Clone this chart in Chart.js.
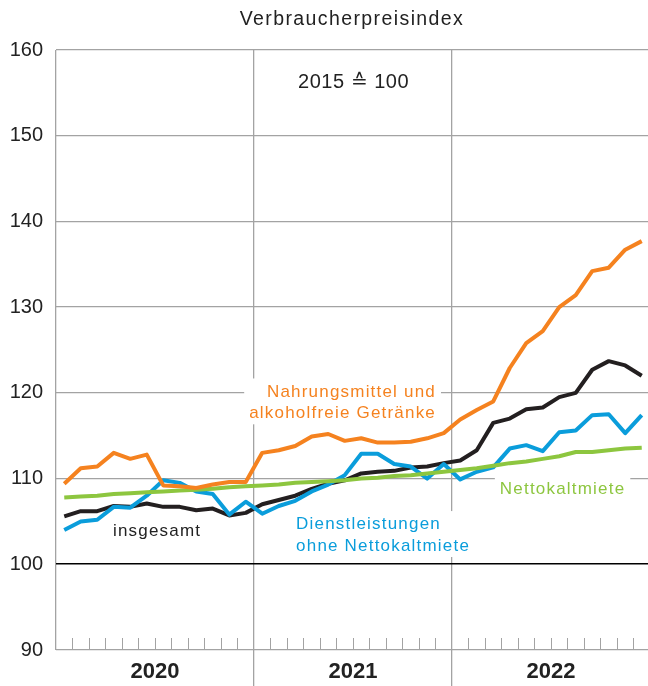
<!DOCTYPE html>
<html><head><meta charset="utf-8">
<script src="https://cdn.jsdelivr.net/npm/chart.js@4"></script>
<style>html,body{margin:0;padding:0;background:#fff}canvas{display:block}</style>
</head><body>
<canvas id="c" width="648" height="686"></canvas>
<script>
// ---- data (monthly, Jan 2020 – Dec 2022; 2015 = 100) ----
const years = ['2020', '2021', '2022'];
const yTicks = [90, 100, 110, 120, 130, 140, 150, 160];

const insgesamt = [
  105.6, 106.2, 106.2, 106.8, 106.7, 107.1, 106.7, 106.7, 106.3, 106.5, 105.7, 106.0,
  107.0, 107.5, 108.0, 108.8, 109.4, 109.8, 110.6, 110.8, 110.9, 111.3, 111.4, 111.8,
  112.1, 113.3, 116.5, 117.0, 118.1, 118.3, 119.5, 120.0, 122.7, 123.7, 123.2, 122.0
];
const nahrungsmittel = [
  109.4, 111.2, 111.4, 113.0, 112.3, 112.8, 109.2, 109.1, 108.9, 109.3, 109.6, 109.6,
  113.0, 113.3, 113.8, 114.9, 115.2, 114.4, 114.7, 114.2, 114.2, 114.3, 114.7, 115.3,
  116.9, 118.0, 119.0, 122.9, 125.8, 127.2, 130.0, 131.4, 134.2, 134.6, 136.7, 137.7
];
const dienstleistungen = [
  104.0, 105.0, 105.2, 106.7, 106.6, 108.0, 109.8, 109.5, 108.5, 108.2, 105.8, 107.3,
  105.9, 106.8, 107.4, 108.5, 109.3, 110.4, 112.9, 112.9, 111.7, 111.4, 110.0, 111.7,
  109.9, 110.8, 111.3, 113.5, 113.9, 113.2, 115.4, 115.6, 117.4, 117.5, 115.3, 117.4
];
const nettokaltmiete = [
  107.8, 107.9, 108.0, 108.2, 108.3, 108.4, 108.5, 108.6, 108.7, 108.8, 109.0, 109.1,
  109.2, 109.3, 109.5, 109.6, 109.7, 109.8, 110.0, 110.1, 110.3, 110.4, 110.6, 110.8,
  111.0, 111.2, 111.5, 111.8, 112.0, 112.3, 112.6, 113.1, 113.1, 113.3, 113.5, 113.6
];

// ---- styles ----
const ORANGE = '#F5821F', BLUE = '#0A9DDB', GREEN = '#8DC63F', BLACK = '#231F20';
const GRID = '#a3a3a3', TEXT = '#222222';
const FONT = '"Liberation Sans", Arial, sans-serif';

const toPts = arr => arr.map((v, i) => ({ x: i + 0.5, y: v }));

// annotation texts, anchored in data coordinates (x: months from Jan 2020, y: index value at baseline)
const notes = [
  { lines: ['2015 \u2259 100'], x: 14.67, ys: [155.57], align: 'left', color: TEXT, size: 20, ls: 0.5, box: false },
  { lines: ['Nahrungsmittel und', 'alkoholfreie Getr\u00e4nke'], x: 23.03, ys: [119.55, 117.03], align: 'right', color: ORANGE, size: 17, ls: 1.2, box: true },
  { lines: ['Dienstleistungen', 'ohne Nettokaltmiete'], x: 14.55, ys: [104.08, 101.55], align: 'left', color: BLUE, size: 17, ls: 1.2, box: true },
  { lines: ['Nettokaltmiete'], x: 26.9, ys: [108.2], align: 'left', color: GREEN, size: 17, ls: 1.2, box: true },
  { lines: ['insgesamt'], x: 3.45, ys: [103.3], align: 'left', color: TEXT, size: 17, ls: 1.2, box: false }
];

const decor = {
  id: 'decor',
  beforeDatasetsDraw(chart) {
    const { ctx, scales: { x: xs, y: ys } } = chart;
    ctx.save();
    // month tick marks inside the plot at the bottom
    ctx.strokeStyle = GRID; ctx.lineWidth = 1;
    for (let m = 1; m < 36; m++) {
      if (m % 12 === 0) continue;
      const px = Math.round(xs.getPixelForValue(m)) + 0.5;
      ctx.beginPath(); ctx.moveTo(px, ys.getPixelForValue(90)); ctx.lineTo(px, ys.getPixelForValue(90) - 12); ctx.stroke();
    }
    // annotations
    for (const n of notes) {
      ctx.font = n.size + 'px ' + FONT;
      ctx.letterSpacing = n.ls + 'px';
      const px = xs.getPixelForValue(n.x);
      const widths = n.lines.map(l => ctx.measureText(l).width);
      const maxW = Math.max(...widths);
      if (n.box) {
        const left = n.align === 'right' ? px - maxW : px;
        const top = ys.getPixelForValue(n.ys[0]) - n.size * 0.72 - 6;
        const bottom = ys.getPixelForValue(n.ys[n.ys.length - 1]) + 6;
        ctx.fillStyle = '#fff';
        ctx.fillRect(left - 5, top, maxW + 10, bottom - top);
      }
      ctx.fillStyle = n.color;
      ctx.textAlign = n.align; ctx.textBaseline = 'alphabetic';
      n.lines.forEach((l, i) => ctx.fillText(l, px, ys.getPixelForValue(n.ys[i])));
    }
    // title
    ctx.font = '19.5px ' + FONT;
    ctx.letterSpacing = '1.4px';
    ctx.fillStyle = TEXT; ctx.textAlign = 'center'; ctx.textBaseline = 'alphabetic';
    ctx.fillText('Verbraucherpreisindex', 352, 25);
    ctx.restore();
  }
};

const ds = (label, arr, color, order) => ({
  label, data: toPts(arr), borderColor: color, backgroundColor: color,
  borderWidth: 4, pointRadius: 0, tension: 0, order,
  borderJoinStyle: 'round', borderCapStyle: 'butt', fill: false
});

new Chart(document.getElementById('c'), {
  type: 'line',
  data: {
    datasets: [
      ds('Nahrungsmittel und alkoholfreie Getränke', nahrungsmittel, ORANGE, 0),
      ds('Nettokaltmiete', nettokaltmiete, GREEN, 1),
      ds('Dienstleistungen ohne Nettokaltmiete', dienstleistungen, BLUE, 2),
      ds('insgesamt', insgesamt, BLACK, 3)
    ]
  },
  options: {
    responsive: false, animation: false, devicePixelRatio: 1,
    layout: { padding: { top: 50, right: 0, bottom: 0, left: 0 } },
    plugins: { legend: { display: false }, tooltip: { enabled: false }, title: { display: false } },
    scales: {
      x: {
        type: 'linear', min: 0, max: 35.88,
        afterBuildTicks: s => { s.ticks = [0, 6, 12, 18, 24, 30].map(v => ({ value: v })); },
        afterFit: s => { s.height = 36; },
        border: { display: false },
        grid: {
          color: c => (c.tick && c.tick.value % 12 === 0) ? GRID : 'rgba(0,0,0,0)',
          tickColor: c => (c.tick && c.tick.value % 12 === 0 && c.tick.value > 0) ? GRID : 'rgba(0,0,0,0)',
          lineWidth: 1.3, drawTicks: true, tickLength: 36
        },
        ticks: {
          autoSkip: false, maxRotation: 0, padding: -27, color: TEXT,
          font: { family: FONT, size: 22, weight: 'bold' },
          callback: v => (v % 12 === 6) ? years[(v - 6) / 12] : ''
        }
      },
      y: {
        min: 90, max: 160,
        afterBuildTicks: s => { s.ticks = yTicks.map(v => ({ value: v })); },
        afterFit: s => { s.width = 56; },
        border: { display: false },
        grid: {
          color: c => (c.tick && c.tick.value === 100) ? '#000' : GRID,
          lineWidth: c => (c.tick && c.tick.value === 100) ? 1.6 : 1.3,
          drawTicks: false
        },
        ticks: { padding: 13, color: TEXT, font: { family: FONT, size: 20 } }
      }
    }
  },
  plugins: [decor]
});
</script>
</body></html>
